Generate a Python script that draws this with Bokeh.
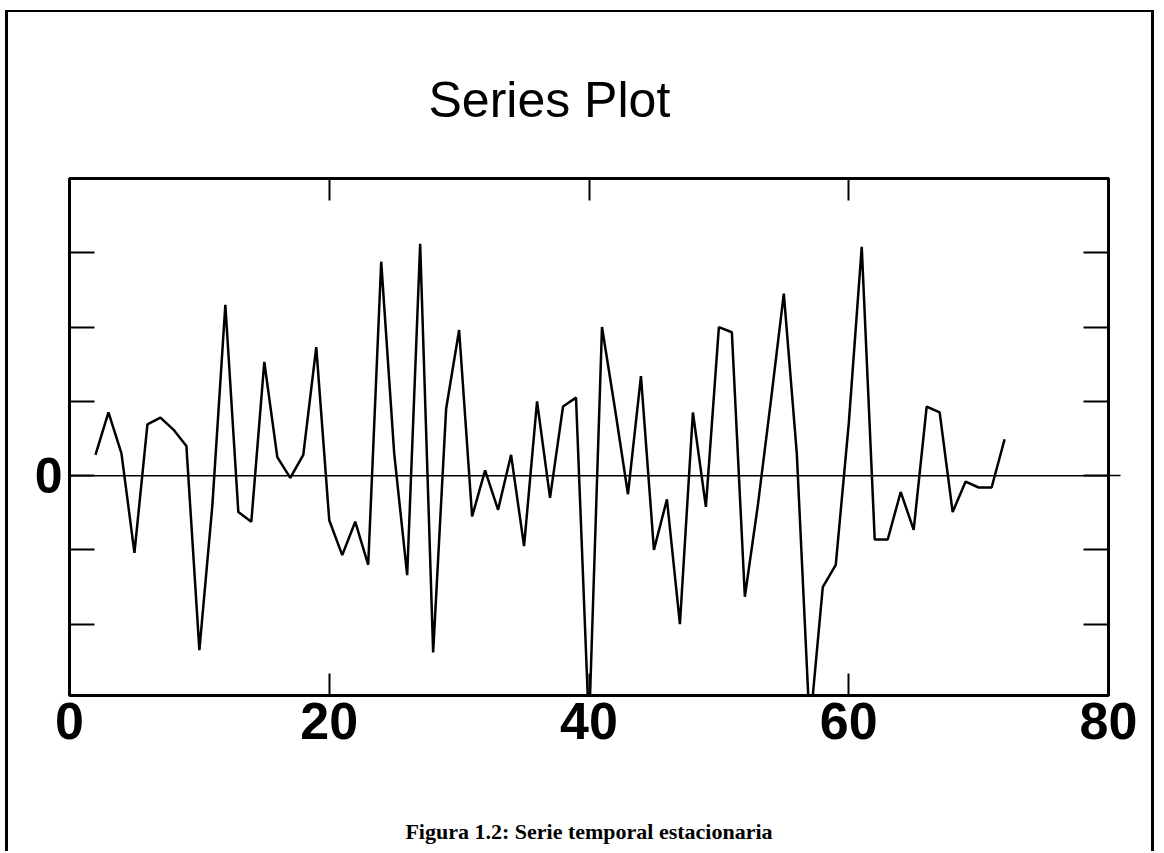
from bokeh.plotting import figure
from bokeh.models import Range1d, LinearAxis, FixedTicker, Span
from bokeh.embed import file_html
from bokeh.resources import INLINE

# ---- data ----
t = list(range(2, 73))
values = [0.28, 0.85, 0.3, -1.04, 0.69, 0.78, 0.62, 0.4, -2.35, -0.4,
          2.3, -0.49, -0.62, 1.53, 0.25, -0.03, 0.28, 1.73, -0.6, -1.07,
          -0.62, -1.2, 2.88, 0.3, -1.34, 3.12, -2.38, 0.9, 1.96, -0.55,
          0.07, -0.46, 0.28, -0.95, 1.0, -0.3, 0.93, 1.05, -3.4, 2.0,
          0.9, -0.25, 1.34, -1.0, -0.32, -2.0, 0.85, -0.42, 2.0, 1.93,
          -1.63, -0.4, 1.0, 2.45, 0.3, -3.4, -1.5, -1.2, 0.7, 3.08,
          -0.86, -0.86, -0.22, -0.73, 0.93, 0.85, -0.49, -0.08, -0.16, -0.16,
          0.49]
x_ticks = [0, 20, 40, 60, 80]
x_inner_ticks = [20, 40, 60]
y_ticks = [-2, -1, 0, 1, 2, 3]
y_labels = {-2: "", -1: "", 0: "0", 1: "", 2: "", 3: ""}
title_text = "Series Plot"
caption_text = "Figura 1.2: Serie temporal estacionaria"

SANS = "Liberation Sans"

W, H = 1149, 841
p = figure(width=W, height=H, output_backend="svg", toolbar_location=None,
           x_range=Range1d(0, 80), y_range=Range1d(-2.96, 4.0),
           min_border_left=61, min_border_top=166, min_border_right=49,
           min_border_bottom=158)
p.styles = {"margin-left": "5px", "margin-top": "10px",
            "border-left": "3px solid black", "border-top": "2px solid black",
            "border-right": "3px solid black"}
p.background_fill_color = "white"
p.border_fill_color = "white"
p.grid.visible = False
p.outline_line_color = "black"
p.outline_line_width = 3

# bottom axis (caption as its label)
xa = p.xaxis[0]
xa.ticker = FixedTicker(ticks=x_ticks, minor_ticks=[])
xa.axis_line_color = None
xa.major_tick_in = 22
xa.major_tick_out = 0
xa.major_tick_line_width = 2
xa.minor_tick_line_color = None
xa.major_label_text_font = SANS
xa.major_label_text_font_style = "bold"
xa.major_label_text_font_size = "52px"
xa.major_label_text_color = "black"
xa.major_label_standoff = 7
xa.axis_label = caption_text
xa.axis_label_text_font = "Liberation Serif"
xa.axis_label_text_font_style = "bold"
xa.axis_label_text_font_size = "22px"
xa.axis_label_text_color = "black"
xa.axis_label_standoff = 77

# left axis
ya = p.yaxis[0]
ya.ticker = FixedTicker(ticks=y_ticks, minor_ticks=[])
ya.major_label_overrides = y_labels
ya.axis_line_color = None
ya.major_tick_in = 25
ya.major_tick_out = 0
ya.major_tick_line_width = 2
ya.minor_tick_line_color = None
ya.major_label_text_font = SANS
ya.major_label_text_font_style = "bold"
ya.major_label_text_font_size = "50px"
ya.major_label_text_color = "black"
ya.major_label_standoff = 7

# top axis
ta = LinearAxis(ticker=FixedTicker(ticks=x_inner_ticks, minor_ticks=[]),
                axis_line_color=None, major_tick_in=22, major_tick_out=0,
                major_tick_line_width=2, minor_tick_line_color=None,
                major_label_text_color=None, major_label_text_font_size="0px",
                major_label_standoff=0)
p.add_layout(ta, "above")

# right axis (inner ticks) and a stub marking the zero line outside the frame
ra = LinearAxis(ticker=FixedTicker(ticks=y_ticks, minor_ticks=[]),
                axis_line_color=None, major_tick_in=25, major_tick_out=0,
                major_tick_line_width=2, minor_tick_line_color=None,
                major_label_text_color=None, major_label_text_font_size="0px",
                major_label_standoff=0)
p.add_layout(ra, "right")
ra0 = LinearAxis(ticker=FixedTicker(ticks=[0], minor_ticks=[]),
                 axis_line_color=None, major_tick_in=2, major_tick_out=12,
                 major_tick_line_width=1.5, minor_tick_line_color=None,
                 major_label_text_color=None, major_label_text_font_size="0px",
                 major_label_standoff=0)
p.add_layout(ra0, "right")

# zero line
p.add_layout(Span(location=0, dimension="width", line_color="black", line_width=1.5))

# series
p.line(t, values, line_color="black", line_width=2.5)

# title
p.title.text = title_text
p.title.align = "left"
p.title.offset = 359
p.title.text_font = SANS
p.title.text_font_style = "normal"
p.title.text_font_size = "50px"
p.title.text_color = "black"
p.title.standoff = 102

open("out.html", "w").write(file_html(p, INLINE))
